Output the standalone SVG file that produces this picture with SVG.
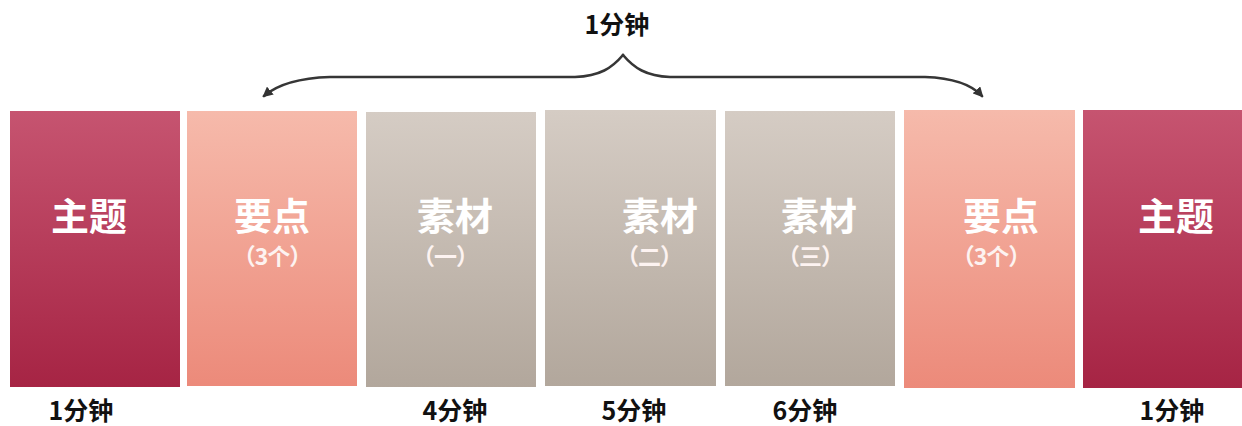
<svg xmlns="http://www.w3.org/2000/svg" width="1242" height="426" viewBox="0 0 1242 426">
<style>
  .title { font-family: "Noto Sans CJK SC", "Noto Sans", sans-serif; font-weight: bold; font-size: 38px; fill: #ffffff; text-anchor: middle; }
  .sub { font-family: "Noto Sans CJK SC", "Noto Sans", sans-serif; font-weight: bold; font-size: 23px; fill: #fdf3f1; text-anchor: middle; letter-spacing: -1px; }
  .time { font-family: "Noto Sans CJK SC", "Noto Sans", sans-serif; font-weight: bold; font-size: 25px; fill: #111111; text-anchor: middle; }
  .brace { fill: none; stroke: #363636; stroke-width: 2.6; stroke-linecap: round; }
</style>
<defs>
  <linearGradient id="gTheme" x1="0" y1="0" x2="0" y2="1">
    <stop offset="0" stop-color="#c65470"/>
    <stop offset="1" stop-color="#a62444"/>
  </linearGradient>
  <linearGradient id="gPoint" x1="0" y1="0" x2="0" y2="1">
    <stop offset="0" stop-color="#f6baab"/>
    <stop offset="1" stop-color="#ec8a7a"/>
  </linearGradient>
  <linearGradient id="gMat" x1="0" y1="0" x2="0" y2="1">
    <stop offset="0" stop-color="#d5ccc4"/>
    <stop offset="1" stop-color="#b2a79c"/>
  </linearGradient>
  <marker id="arr" viewBox="0 0 10 10" refX="8" refY="5" markerWidth="4" markerHeight="4" orient="auto" markerUnits="strokeWidth">
    <path d="M0,0 L10,5 L0,10 Z" fill="#333333"/>
  </marker>
</defs>
<rect width="1242" height="426" fill="#ffffff"/>

<g id="connectors">
  <path class="brace" d="M623,55 C612,68 600,76 575,77 L330,77 C298,78 278,84 264,96" marker-end="url(#arr)"/>
  <path class="brace" d="M623,55 C634,68 646,76 670,77 L925,77 C955,78 972,85 982,96" marker-end="url(#arr)"/>
</g>

<g id="label-top">
  <text class="time" x="617" y="34">1分钟</text>
</g>

<g id="node-theme-1">
  <rect x="10" y="111" width="170" height="276" fill="url(#gTheme)"/>
  <text class="title" x="89" y="230">主题</text>
</g>
<g id="node-point-1">
  <rect x="187" y="111" width="170" height="275" fill="url(#gPoint)"/>
  <text class="title" x="272" y="230">要点</text>
  <text class="sub" x="272" y="265">（3个）</text>
</g>
<g id="node-material-1">
  <rect x="366" y="112" width="170" height="275" fill="url(#gMat)"/>
  <text class="title" x="455" y="230">素材</text>
  <text class="sub" x="445" y="265">（一）</text>
</g>
<g id="node-material-2">
  <rect x="545" y="110" width="171" height="276" fill="url(#gMat)"/>
  <text class="title" x="660" y="230">素材</text>
  <text class="sub" x="649" y="265">（二）</text>
</g>
<g id="node-material-3">
  <rect x="725" y="111" width="170" height="275" fill="url(#gMat)"/>
  <text class="title" x="819" y="230">素材</text>
  <text class="sub" x="810" y="265">（三）</text>
</g>
<g id="node-point-2">
  <rect x="904" y="110" width="171" height="278" fill="url(#gPoint)"/>
  <text class="title" x="1001" y="230">要点</text>
  <text class="sub" x="991" y="265">（3个）</text>
</g>
<g id="node-theme-2">
  <rect x="1083" y="110" width="159" height="278" fill="url(#gTheme)"/>
  <text class="title" x="1176" y="230">主题</text>
</g>

<g id="labels-bottom">
  <text class="time" x="81" y="420">1分钟</text>
  <text class="time" x="455" y="420">4分钟</text>
  <text class="time" x="634" y="420">5分钟</text>
  <text class="time" x="805" y="420">6分钟</text>
  <text class="time" x="1172" y="420">1分钟</text>
</g>
</svg>
